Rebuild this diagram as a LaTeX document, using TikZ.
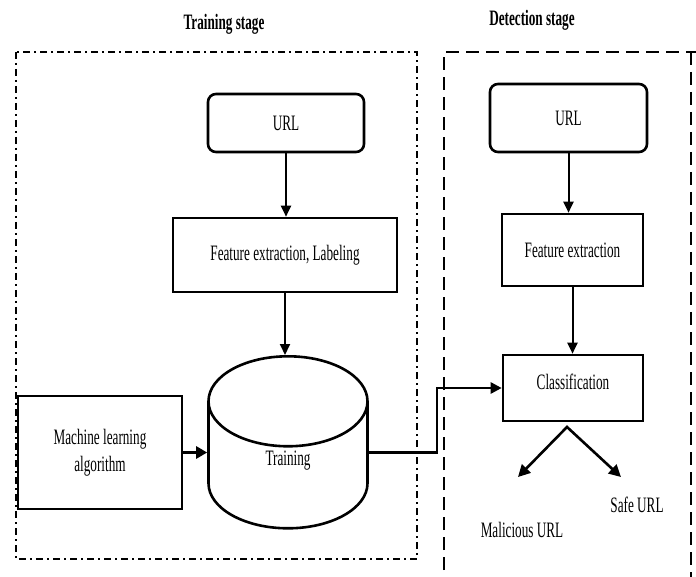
\documentclass[tikz,border=0pt]{standalone}
\usepackage{fontspec}
\setmainfont{Liberation Serif}[FakeStretch=0.6]
\usetikzlibrary{arrows.meta, shapes.geometric}

\begin{document}
\begin{tikzpicture}[x=1pt, y=-1pt,
    box/.style={draw, line width=2.6pt, font=\fontsize{22}{27}\selectfont, align=center, inner sep=0pt},
    plain/.style={font=\fontsize{22}{27}\selectfont, inner sep=0pt},
    title/.style={font=\fontsize{22}{27}\selectfont\bfseries, inner sep=0pt},
    flow/.style={line width=2pt, -{Triangle[length=11pt, width=10pt]}},
    bold flow/.style={line width=3pt, -{Triangle[length=11pt, width=12pt]}}]
  \useasboundingbox (0,0) rectangle (696,577);

  % stage frames
  \draw[line width=2.2pt, dash pattern=on 7pt off 4pt on 2pt off 4pt] (16,52) rectangle (417,559);
  \draw[line width=2.2pt, dash pattern=on 13pt off 7pt] (444,590) -- (444,52) -- (696,52) (691,52) -- (691,590);
  \node[title] (trainTitle) at (224,24) {Training stage};
  \node[title] (detTitle) at (532,20) {Detection stage};

  % training stage
  \node[box, rounded corners=8pt, minimum width=156pt, minimum height=58pt] (urlA) at (286,123) {URL};
  \node[box, minimum width=224pt, minimum height=74pt] (featA) at (285,255) {Feature extraction, Labeling};
  \node[box, cylinder, shape border rotate=90, aspect=2.0, minimum width=159pt, minimum height=172pt,
        text height=0pt, text depth=0pt, anchor=north] (train) at (288,355) {Training};
  \node[box, minimum width=164pt, minimum height=113pt] (ml) at (100,452.5) {Machine learning\\algorithm};

  % detection stage
  \node[box, rounded corners=8pt, minimum width=157pt, minimum height=68pt] (urlB) at (568.5,118) {URL};
  \node[box, minimum width=141pt, minimum height=72pt] (featB) at (572.5,250) {Feature extraction};
  \node[box, minimum width=140pt, minimum height=66pt, text height=15pt, text depth=12pt] (cls) at (573,388) {Classification};
  \node[plain] (safe) at (637,505) {Safe URL};
  \node[plain] (mal) at (522,530) {Malicious URL};

  \coordinate (bend) at (437,452.5);
  \coordinate (fork) at (567,427);
  \coordinate (malTip) at (518,477);
  \coordinate (safeTip) at (621,477);

  % connectors
  \draw[flow] (urlA.south) -- (urlA.south |- featA.north);
  \draw[flow] (featA.south) -- (featA.south |- train.north);
  \draw[bold flow] (ml.east) -- (ml.east -| train.west);
  \draw[line width=2.6pt, -{Triangle[length=11pt, width=11pt]}] (ml.east -| train.east) -- (bend) |- (cls.west);
  \draw[flow] (urlB.south) -- (urlB.south |- featB.north);
  \draw[flow] (featB.south) -- (featB.south |- cls.north);
  \draw[line width=2.6pt, {Triangle[length=12pt, width=12pt]}-{Triangle[length=12pt, width=12pt]}] (malTip) -- (fork) -- (safeTip);
\end{tikzpicture}
\end{document}
